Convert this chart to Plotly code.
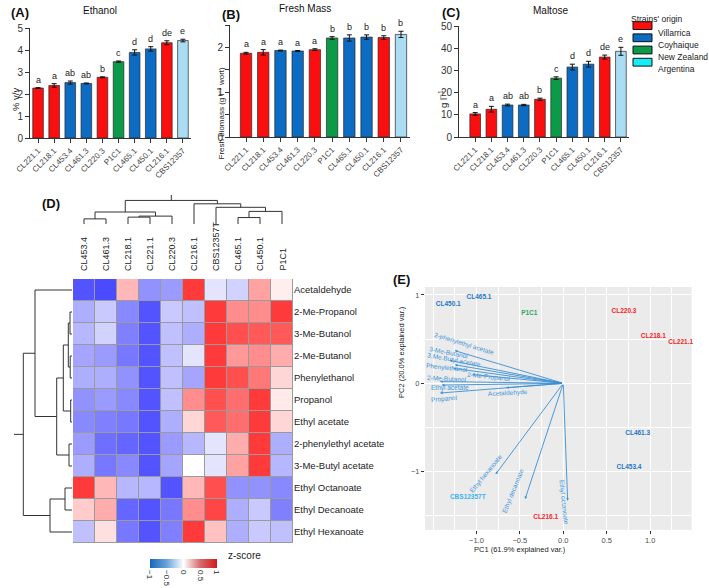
import plotly.graph_objects as go

W, H = 709, 588
FONT = "Liberation Sans, Arial, Helvetica, sans-serif"


def fx(p):
    return p / W


def fy(p):
    return 1 - p / H


# ---------------- data: bar panels ----------------
strains = ["CL221.1", "CL218.1", "CL453.4", "CL461.3", "CL220.3",
           "P1C1", "CL465.1", "CL450.1", "CL216.1", "CBS12357"]
strain_origin = ["Villarrica", "Villarrica", "Coyhaique", "Coyhaique", "Villarrica",
                 "New Zealand", "Coyhaique", "Coyhaique", "Villarrica", "Argentina"]
origins = ["Villarrica", "Coyhaique", "New Zealand", "Argentina"]

ethanol = [2.27, 2.39, 2.52, 2.48, 2.76, 3.47, 3.89, 4.05, 4.33, 4.43]
ethanol_err = [0.02, 0.08, 0.07, 0.02, 0.02, 0.03, 0.12, 0.10, 0.09, 0.06]
ethanol_letters = ["a", "a", "ab", "ab", "b", "c", "d", "d", "de", "e"]

fresh_mass = [1.87, 1.89, 1.93, 1.92, 1.95, 2.21, 2.21, 2.23, 2.22, 2.29]
fresh_mass_err = [0.02, 0.06, 0.01, 0.01, 0.02, 0.03, 0.07, 0.05, 0.04, 0.07]
fresh_mass_letters = ["a", "a", "a", "a", "a", "b", "b", "b", "b", "b"]

maltose = [10.4, 12.5, 14.4, 14.4, 17.0, 26.5, 31.5, 32.8, 36.0, 38.6]
maltose_err = [0.6, 1.3, 0.4, 0.3, 0.5, 0.6, 1.3, 1.3, 0.9, 1.8]
maltose_letters = ["a", "a", "ab", "ab", "b", "c", "d", "d", "de", "e"]

# ---------------- data: heatmap ----------------
hm_cols = ["CL453.4", "CL461.3", "CL218.1", "CL221.1", "CL220.3",
           "CL216.1", "CBS12357T", "CL465.1", "CL450.1", "P1C1"]
hm_rows = ["Acetaldehyde", "2-Me-Propanol", "3-Me-Butanol", "2-Me-Butanol",
           "Phenylethanol", "Propanol", "Ethyl acetate", "2-phenylethyl acetate",
           "3-Me-Butyl acetate", "Ethyl Octanoate", "Ethyl Decanoate", "Ethyl Hexanoate"]
hm_z = [
    [-0.95, -1.00, 0.35, -0.60, -0.55, 0.95, -0.15, -0.25, 0.45, 0.08],
    [-0.45, -0.30, -0.65, -0.95, -0.30, -0.35, 0.95, 0.55, 0.55, 0.95],
    [-0.40, -0.25, -0.70, -0.95, -0.35, -0.45, 0.95, 0.85, 0.80, 0.80],
    [-0.50, -0.55, -0.75, -0.95, -0.35, -0.15, 0.95, 0.50, 0.55, 0.40],
    [-0.45, -0.45, -0.60, -0.95, -0.35, -0.50, 0.95, 0.85, 0.65, 0.20],
    [-0.60, -0.55, -0.65, -0.95, -0.35, 0.55, 0.85, 0.70, 0.95, 0.10],
    [-0.65, -0.70, -0.75, -0.95, -0.45, 0.20, 0.80, 0.70, 0.95, 0.20],
    [-0.55, -0.80, -0.85, -0.95, -0.55, -0.40, -0.15, 0.40, 0.95, -0.45],
    [-0.45, -0.75, -0.65, -0.95, -0.50, 0.00, -0.15, 0.45, 0.95, -0.40],
    [0.95, 0.35, -0.40, -0.40, -0.95, 0.35, 0.85, -0.60, -0.60, -0.65],
    [0.25, 0.40, -0.85, -0.95, -0.75, 0.55, 0.90, -0.45, -0.30, -0.70],
    [-0.35, 0.15, -0.75, -0.95, -0.70, 0.95, 0.30, -0.45, -0.30, -0.35],
]
zscore_ticks = [-1, -0.5, 0, 0.5, 1]

# column clustering (leaves in display order, merged nodes numbered from 10)
col_merge_a = [0, 2, 11, 10, 7, 14, 6, 5, 13]
col_merge_b = [1, 3, 4, 12, 8, 9, 15, 16, 17]
col_merge_h = [5.0, 6.7, 7.7, 11.7, 6.3, 12.3, 16.3, 19.7, 23.0]
col_root_top = 28.3

# row clustering (leaves in display order, merged nodes numbered from 12)
row_merge_a = [1, 3, 12, 5, 14, 7, 16, 0, 9, 20, 19]
row_merge_b = [2, 4, 13, 6, 15, 8, 17, 18, 10, 11, 21]
row_merge_h = [2.0, 1.8, 3.7, 1.3, 8.7, 3.0, 15.3, 37.0, 7.0, 22.0, 48.7]
row_root_top = 58.0

# ---------------- data: PCA biplot ----------------
pca_samples = ["CL450.1", "CL465.1", "P1C1", "CL220.3", "CL218.1", "CL221.1",
               "CL461.3", "CL453.4", "CL216.1", "CBS12357T"]
pca_origin = ["Coyhaique", "Coyhaique", "New Zealand", "Villarrica", "Villarrica",
              "Villarrica", "Coyhaique", "Coyhaique", "Villarrica", "Argentina"]
pc1 = [-1.325, -0.971, -0.392, 0.699, 1.037, 1.352, 0.857, 0.757, -0.203, -1.10]
pc2 = [0.895, 0.974, 0.793, 0.819, 0.536, 0.460, -0.566, -0.956, -1.522, -1.288]

pca_vars = ["2-phenylethyl acetate", "3-Me-Butanol", "3.Me.Butyl acetate",
            "Phenylethanol", "2-Me-Propanol", "2-Me-Butanol", "Ethyl acetate",
            "Acetaldehyde", "Propanol", "Ethyl hexanoate", "Ethyl decanoate",
            "Ethyl octanoate"]
load_pc1 = [-1.25, -1.31, -1.25, -1.27, -1.05, -1.42, -1.40, -0.66, -1.42, -0.78, -0.44, 0.05]
load_pc2 = [0.37, 0.26, 0.21, 0.17, 0.10, 0.02, -0.02, -0.05, -0.11, -1.03, -1.31, -1.33]
label_pc1 = [-1.14, -1.311, -1.259, -1.334, -0.856, -1.334, -1.309, -0.637, -1.374, -0.89, -0.576, 0.008]
label_pc2 = [0.445, 0.349, 0.264, 0.168, 0.066, 0.054, -0.05, -0.113, -0.176, -1.03, -1.22, -1.352]
label_angle = [17, 11, 10, 6, 6, 3, 0, -3, -5, -51, -68, 84]

# ---------------- styles ----------------
bar_colors = {"Villarrica": "#fb0e0e", "Coyhaique": "#0c6bc2",
              "New Zealand": "#0b9a48", "Argentina": "#aadcf4"}
legend_colors = {"Villarrica": "#fb0e0e", "Coyhaique": "#0c6bc2",
                 "New Zealand": "#0b9a48", "Argentina": "#16eef6"}
label_colors = {"Villarrica": "#f52525", "Coyhaique": "#1d77c9",
                "New Zealand": "#2da65a", "Argentina": "#3cb3ec"}
hm_scale = [[0, "#4a4aff"], [0.5, "#ffffff"], [1, "#ff3030"]]
cb_scale = [[0, "#1767bd"], [0.25, "#6aa4da"], [0.5, "#ffffff"],
            [0.75, "#d66a6a"], [1, "#d31a1a"]]
arrow_color = "#3a8ed4"

fig = go.Figure()
annotations = []
shapes = []

# ---------------- bar panels ----------------
panels = [
    ("x", "y", ethanol, ethanol_err, ethanol_letters),
    ("x2", "y2", fresh_mass, fresh_mass_err, fresh_mass_letters),
    ("x3", "y3", maltose, maltose_err, maltose_letters),
]
for xa, ya, vals, errs, letters in panels:
    fig.add_trace(go.Bar(
        x=strains, y=vals, xaxis=xa, yaxis=ya, width=0.66,
        marker=dict(color=[bar_colors[o] for o in strain_origin],
                    line=dict(color="#2a2a2a", width=0.7)),
        error_y=dict(type="data", array=errs, visible=True, color="#111",
                     thickness=1, width=2.5),
        hoverinfo="skip"))
    for s, v, e, t in zip(strains, vals, errs, letters):
        annotations.append(dict(x=s, y=v + e, xref=xa, yref=ya, text=t,
                                showarrow=False, yanchor="bottom", yshift=1,
                                font=dict(size=9, color="#222")))


def bar_x(dom, r0, anchor):
    return dict(domain=dom, range=[r0, 9.5], anchor=anchor, type="category",
                showline=True, linecolor="#333", linewidth=1, ticks="outside",
                ticklen=4, tickcolor="#333", tickangle=-45,
                tickfont=dict(size=8, color="#444"), showgrid=False,
                zeroline=False, automargin=False)


def bar_y(dom, rng, anchor, tv, tt):
    return dict(domain=dom, range=rng, anchor=anchor, showline=True,
                linecolor="#333", linewidth=1, ticks="outside", ticklen=4,
                tickcolor="#333", tickvals=tv, ticktext=tt,
                tickfont=dict(size=10, color="#333"), showgrid=False,
                zeroline=False, automargin=False)


layout_axes = {}
layout_axes["xaxis"] = bar_x([fx(30), fx(191)], -0.5, "y")
layout_axes["yaxis"] = bar_y([fy(138), fy(28)], [0, 5], "x",
                             [0, 1, 2, 3, 4, 5], ["0", "1", "2", "3", "4", "5"])
layout_axes["xaxis2"] = bar_x([fx(230), fx(409.6)], -0.93, "y2")
layout_axes["yaxis2"] = bar_y([fy(137), fy(25)], [0, 2.5], "x2",
                              [0, 0.5, 1, 1.5, 2, 2.5], ["0", " ", "1", " ", "2", " "])
layout_axes["xaxis3"] = bar_x([fx(459), fx(629)], -1.0, "y3")
layout_axes["yaxis3"] = bar_y([fy(137), fy(26)], [0, 50], "x3",
                              [0, 10, 20, 30, 40, 50], ["0", "10", "20", "30", "40", "50"])

# titles for bar panels
for txt, x, y, size, bold in [("(A)", 19.5, 12, 13, True), ("Ethanol", 100, 11, 10, False),
                              ("(B)", 231, 15, 13, True), ("Fresh Mass", 305, 8, 10, False),
                              ("(C)", 451, 12, 13, True), ("Maltose", 550, 10, 10, False),
                              ("(D)", 51, 203, 13, True), ("(E)", 401, 279, 13, True)]:
    annotations.append(dict(x=fx(x), y=fy(y), xref="paper", yref="paper", text=txt,
                            showarrow=False, xanchor="center", yanchor="middle",
                            font=dict(size=size, color="#111",
                                      weight="bold" if bold else "normal")))
for txt, x, y, size in [("% v/v", 8, 86, 9.5),
                        ("Fresh biomass (g l<sup>−1</sup> wort)", 213, 64, 8),
                        ("g l<sup>−1</sup>", 443, 88, 9.5)]:
    annotations.append(dict(x=fx(x), y=fy(y), xref="paper", yref="paper", text=txt,
                            showarrow=False, textangle=-90, font=dict(size=size, color="#222")))

# legend
annotations.append(dict(x=fx(629), y=fy(12), xref="paper", yref="paper",
                        text="Strains' origin", showarrow=False, xanchor="left",
                        font=dict(size=8.5, color="#222")))
for i, o in enumerate(origins):
    top = 21.7 + 12.2 * i
    shapes.append(dict(type="rect", xref="paper", yref="paper",
                       x0=fx(633), x1=fx(652), y0=fy(top + 7.8), y1=fy(top),
                       fillcolor=legend_colors[o], line=dict(color="#111", width=1)))
    annotations.append(dict(x=fx(656), y=fy(top + 3.9), xref="paper", yref="paper",
                            text=o, showarrow=False, xanchor="left",
                            font=dict(size=8.5, color="#222")))

# ---------------- heatmap ----------------
fig.add_trace(go.Heatmap(z=hm_z, x=list(range(len(hm_cols))), y=list(range(len(hm_rows))),
                         colorscale=hm_scale, zmin=-1, zmax=1, showscale=False,
                         xgap=1, ygap=1, xaxis="x4", yaxis="y4", hoverinfo="skip"))
shapes.append(dict(type="rect", xref="x4 domain", yref="y4 domain", x0=0, x1=1, y0=0, y1=1,
                   fillcolor="#9a9a9a", line=dict(width=0), layer="below"))
layout_axes["xaxis4"] = dict(domain=[fx(73), fx(293)], range=[-0.5, len(hm_cols) - 0.5],
                             anchor="y4", visible=False, automargin=False)
layout_axes["yaxis4"] = dict(domain=[fy(543), fy(279)], range=[len(hm_rows) - 0.5, -0.5],
                             anchor="x4", side="right", tickvals=list(range(len(hm_rows))),
                             ticktext=hm_rows, ticks="", showgrid=False, zeroline=False,
                             showline=False, tickfont=dict(size=9.5, color="#222"),
                             automargin=False)
for i, c in enumerate(hm_cols):
    annotations.append(dict(x=i, y=fy(273), xref="x4", yref="paper", text=c,
                            showarrow=False, textangle=-90, yanchor="bottom",
                            xanchor="center", font=dict(size=9, color="#222")))

# colour key (dummy invisible trace only carrying the colour bar)
fig.add_trace(go.Scatter(
    x=[0, 0], y=[0, 0], mode="markers", xaxis="x4", yaxis="y4", hoverinfo="skip",
    marker=dict(size=1, opacity=0, color=[-1, 1], cmin=-1, cmax=1, colorscale=cb_scale,
                showscale=True,
                colorbar=dict(orientation="h", x=fx(150), xanchor="left", y=fy(559),
                              yanchor="top", yref="paper", len=67, lenmode="pixels",
                              thickness=9, thicknessmode="pixels", outlinewidth=0,
                              tickvals=zscore_ticks,
                              ticktext=["−1", "−0.5", "0", "0.5", "1"],
                              tickangle=90, ticks="", xpad=0, ypad=0,
                              tickfont=dict(size=8, color="#222")))))
annotations.append(dict(x=fx(226), y=fy(563), xref="paper", yref="paper", text="z-score",
                        showarrow=False, xanchor="left", font=dict(size=10, color="#222")))


# dendrograms
def dendro(n_leaves, la, lb, lh):
    pos = {i: float(i) for i in range(n_leaves)}
    hgt = {i: 0.0 for i in range(n_leaves)}
    ps, hs = [], []
    node = n_leaves - 1
    for k, (a, b, h) in enumerate(zip(la, lb, lh)):
        node = n_leaves + k
        ps += [pos[a], pos[a], pos[b], pos[b], None]
        hs += [hgt[a], h, h, hgt[b], None]
        pos[node] = (pos[a] + pos[b]) / 2
        hgt[node] = h
    return ps, hs, pos[node], hgt[node]


cp, ch, croot, croot_h = dendro(len(hm_cols), col_merge_a, col_merge_b, col_merge_h)
cp += [croot, croot]
ch += [croot_h, col_root_top]
fig.add_trace(go.Scatter(x=cp, y=ch, mode="lines", line=dict(color="#333", width=1),
                         xaxis="x5", yaxis="y5", hoverinfo="skip"))
layout_axes["xaxis5"] = dict(domain=[fx(73), fx(293)], range=[-0.5, len(hm_cols) - 0.5],
                             anchor="y5", visible=False, automargin=False)
layout_axes["yaxis5"] = dict(domain=[fy(224), fy(195)], range=[0, col_root_top],
                             anchor="x5", visible=False, automargin=False)

rp, rh, rroot, rroot_h = dendro(len(hm_rows), row_merge_a, row_merge_b, row_merge_h)
rp += [rroot, rroot]
rh += [rroot_h, row_root_top]
fig.add_trace(go.Scatter(x=rh, y=rp, mode="lines", line=dict(color="#333", width=1),
                         xaxis="x6", yaxis="y6", hoverinfo="skip"))
layout_axes["xaxis6"] = dict(domain=[fx(14), fx(72)], range=[row_root_top, 0],
                             anchor="y6", visible=False, automargin=False)
layout_axes["yaxis6"] = dict(domain=[fy(543), fy(279)], range=[len(hm_rows) - 0.5, -0.5],
                             anchor="x6", visible=False, automargin=False)

# ---------------- PCA biplot ----------------
shapes.append(dict(type="rect", xref="x7 domain", yref="y7 domain", x0=0, x1=1, y0=0, y1=1,
                   fillcolor="#ebebeb", line=dict(width=0), layer="below"))
for vx, vy in zip(load_pc1, load_pc2):
    annotations.append(dict(x=vx, y=vy, xref="x7", yref="y7", ax=0, ay=0,
                            axref="x7", ayref="y7", text="", showarrow=True,
                            arrowhead=2, arrowsize=0.6, arrowwidth=0.9,
                            arrowcolor=arrow_color, standoff=0, startstandoff=0))
for name, lx, ly, ang in zip(pca_vars, label_pc1, label_pc2, label_angle):
    annotations.append(dict(x=lx, y=ly, xref="x7", yref="y7", text=name, showarrow=False,
                            textangle=ang, font=dict(size=6.5, color="#3f95da")))
fig.add_trace(go.Scatter(x=pc1, y=pc2, mode="text", text=pca_samples, xaxis="x7", yaxis="y7",
                         cliponaxis=False,
                         textfont=dict(size=6.5, color=[label_colors[o] for o in pca_origin],
                                       weight="bold"),
                         hoverinfo="skip"))
layout_axes["xaxis7"] = dict(domain=[fx(425), fx(691.7)], range=[-1.593, 1.479], anchor="y7",
                             tickvals=[-1, -0.5, 0, 0.5, 1],
                             ticktext=["−1.0", "−0.5", "0.0", "0.5", "1.0"],
                             showgrid=True, gridcolor="white", gridwidth=1.1, zeroline=False,
                             ticks="outside", ticklen=3, tickcolor="#333",
                             tickfont=dict(size=7.5, color="#4d4d4d"), automargin=False,
                             minor=dict(tickvals=[-1.5, -1.25, -0.75, -0.25, 0.25, 0.75, 1.25],
                                        showgrid=True, gridcolor="white", gridwidth=0.5,
                                        ticks=""))
layout_axes["yaxis7"] = dict(domain=[fy(530), fy(287)], range=[-1.66, 1.09], anchor="x7",
                             tickvals=[-1, 0, 1], ticktext=["−1", "0", "1"],
                             showgrid=True, gridcolor="white", gridwidth=1.1, zeroline=False,
                             ticks="outside", ticklen=3, tickcolor="#333",
                             tickfont=dict(size=7.5, color="#4d4d4d"), automargin=False,
                             minor=dict(tickvals=[-1.5, -0.5, 0.5], showgrid=True,
                                        gridcolor="white", gridwidth=0.5, ticks=""))
annotations.append(dict(x=fx(568), y=fy(556), xref="paper", yref="paper",
                        text="PC1 (61.9% explained var.)", showarrow=False,
                        font=dict(size=7.5, color="#222")))
annotations.append(dict(x=fx(401), y=fy(400), xref="paper", yref="paper",
                        text="PC2 (20.0% explained var.)", showarrow=False, textangle=-90,
                        font=dict(size=7.5, color="#222")))

fig.update_layout(
    width=W, height=H, margin=dict(l=0, r=0, t=0, b=0, autoexpand=False),
    paper_bgcolor="white", plot_bgcolor="white", showlegend=False,
    font=dict(family=FONT, size=10, color="#222"),
    annotations=annotations, shapes=shapes, **layout_axes)

fig.write_html("out.html", config={"displayModeBar": False},
               post_script="document.body.style.margin='0px';document.body.style.padding='0px';")
